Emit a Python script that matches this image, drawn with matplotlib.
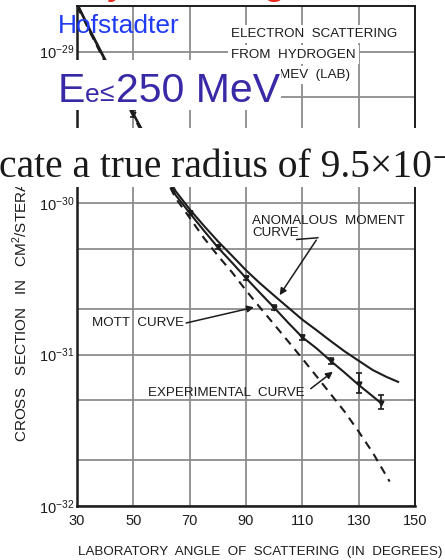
import matplotlib
matplotlib.use('Agg')
import matplotlib.pyplot as plt
from matplotlib.patches import Rectangle

W, H = 445, 560

LETTER = 'Liberation Sans'
plt.rcParams['font.family'] = [LETTER, 'DejaVu Sans']
plt.rcParams['mathtext.fontset'] = 'custom'
plt.rcParams['mathtext.rm'] = LETTER

INK = '#1c1c1c'
GRID = '#8c8c8c'

# anomalous moment curve
ang_anom = [30, 35, 40, 45, 50, 55, 60, 65, 70, 75, 80, 85, 90, 95, 100, 105,
            110, 115, 120, 125, 130, 135, 140, 144]
sig_anom = [2.09e-29, 1.35e-29, 8.9e-30, 5.9e-30, 3.9e-30, 2.63e-30, 1.78e-30,
            1.20e-30, 9.1e-31, 7.1e-31, 5.6e-31, 4.5e-31, 3.6e-31, 2.95e-31,
            2.45e-31, 2.04e-31, 1.70e-31, 1.45e-31, 1.23e-31, 1.05e-31,
            9.1e-32, 7.9e-32, 7.1e-32, 6.6e-32]

# experimental curve
ang_exp = [30, 35, 40, 45, 50, 55, 60, 65, 70, 75, 80, 85, 90, 95, 100, 105,
           110, 115, 120, 125, 130, 135, 137.5]
sig_exp = [2.05e-29, 1.32e-29, 8.7e-30, 5.8e-30, 3.85e-30, 2.58e-30, 1.72e-30,
           1.13e-30, 8.6e-31, 6.6e-31, 5.1e-31, 4.05e-31, 3.2e-31, 2.55e-31,
           2.04e-31, 1.62e-31, 1.30e-31, 1.10e-31, 9.1e-32, 7.6e-32, 6.3e-32,
           5.3e-32, 4.85e-32]

# Mott curve (point charge)
ang_mott = [30, 35, 40, 45, 50, 55, 60, 65, 70, 75, 80, 85, 90, 95, 100, 105,
            110, 115, 120, 125, 130, 135, 141]
sig_mott = [2.0e-29, 1.3e-29, 8.5e-30, 5.65e-30, 3.75e-30, 2.5e-30, 1.65e-30,
            1.08e-30, 8.0e-31, 5.9e-31, 4.5e-31, 3.5e-31, 2.65e-31, 2.04e-31,
            1.58e-31, 1.22e-31, 9.4e-32, 7.2e-32, 5.5e-32, 4.2e-32, 3.1e-32,
            2.25e-32, 1.45e-32]

# measured points
pt_ang = [50, 60, 70, 80, 90, 100, 110, 120, 130, 138]
pt_sig = [3.9e-30, 1.72e-30, 8.6e-31, 5.1e-31, 3.2e-31, 2.04e-31, 1.30e-31,
          9.1e-32, 6.4e-32, 4.8e-32]
pt_lo = [3.7e-30, 1.65e-30, 8.3e-31, 4.95e-31, 3.1e-31, 1.97e-31, 1.25e-31,
         8.7e-32, 5.6e-32, 4.4e-32]
pt_hi = [4.1e-30, 1.80e-30, 8.9e-31, 5.25e-31, 3.3e-31, 2.11e-31, 1.35e-31,
         9.5e-32, 7.6e-32, 5.4e-32]

x_ticks = [30, 50, 70, 90, 110, 130, 150]
y_major = [1e-32, 1e-31, 1e-30, 1e-29]
y_minor = [2e-32, 5e-32, 2e-31, 5e-31, 2e-30, 5e-30]


def fx(px):
    return px / W


def fy(py):
    return 1 - py / H


fig = plt.figure(figsize=(W / 100, H / 100), dpi=100)
ax = fig.add_axes([fx(77), fy(506), 338 / W, 500 / H])

ax.set_yscale('log')
ax.set_xlim(30, 150)
ax.set_ylim(1e-32, 2e-29)
ax.set_xticks(x_ticks)
ax.set_xticklabels([str(t) for t in x_ticks])
ax.set_yticks(y_major)
ax.set_yticklabels([r'$\mathregular{10^{%d}}$' % e for e in (-32, -31, -30, -29)])
ax.set_yticks(y_minor, minor=True)
ax.set_yticklabels([], minor=True)
ax.tick_params(which='both', length=0, labelsize=10.5, colors=INK)
ax.tick_params(axis='x', pad=6)
ax.tick_params(axis='y', pad=2)
ax.grid(True, which='both', color=GRID, lw=1.3)
ax.set_axisbelow(True)
for side, sp in ax.spines.items():
    sp.set_color(INK)
    sp.set_linewidth(1.8 if side in ('left', 'bottom') else 1.4)

ax.plot(ang_anom, sig_anom, color=INK, lw=1.5)
ax.plot(ang_exp, sig_exp, color=INK, lw=1.5)
ax.plot(ang_mott, sig_mott, color=INK, lw=1.5, dashes=(4, 3))

yerr = [[s - l for s, l in zip(pt_sig, pt_lo)], [h - s for s, h in zip(pt_sig, pt_hi)]]
ax.errorbar(pt_ang, pt_sig, yerr=yerr, fmt='v', ms=3.5, color=INK, lw=1.2,
            capsize=2.5, capthick=1.2)

# curve labels
lab = dict(color=INK, fontsize=9.6)
ax.text(92.3, 8.4e-31, 'ANOMALOUS  MOMENT\nCURVE', ha='left', va='top',
        linespacing=1.05, **lab)
ax.plot([108.0, 115.5], [5.75e-31, 5.9e-31], color=INK, lw=1.1)
ax.annotate('', xy=(101.4, 2.38e-31), xytext=(115.5, 5.9e-31),
            arrowprops=dict(arrowstyle='-|>', color=INK, lw=1.1, mutation_scale=10))

ax.text(35.3, 1.62e-31, 'MOTT  CURVE', ha='left', va='center', **lab)
ax.annotate('', xy=(93.8, 2.07e-31), xytext=(67.8, 1.6e-31),
            arrowprops=dict(arrowstyle='-|>', color=INK, lw=1.1, mutation_scale=10))

ax.text(55.2, 5.57e-32, 'EXPERIMENTAL  CURVE', ha='left', va='center', **lab)
ax.annotate('', xy=(121.6, 7.9e-32), xytext=(112.2, 5.8e-32),
            arrowprops=dict(arrowstyle='-|>', color=INK, lw=1.1, mutation_scale=10))

box = dict(facecolor='white', edgecolor='none', pad=2.5)
fig.text(fx(231), fy(37), 'ELECTRON  SCATTERING', ha='left', va='baseline',
         color=INK, fontsize=9.6, bbox=box)
fig.text(fx(231), fy(57.5), 'FROM  HYDROGEN', ha='left', va='baseline',
         color=INK, fontsize=9.6, bbox=box)
fig.text(fx(350), fy(78), '188  MEV  (LAB)', ha='right', va='baseline',
         color=INK, fontsize=9.6, bbox=box)

fig.text(fx(20), fy(442), r'CROSS   SECTION   IN   CM$^2$/STERADIAN',
         rotation=90, ha='center', va='bottom', color=INK, fontsize=11)
fig.text(fx(260), fy(555), 'LABORATORY  ANGLE  OF  SCATTERING  (IN  DEGREES)',
         ha='center', va='baseline', color=INK, fontsize=9.6)

# white strips pasted over the scan
fig.add_artist(Rectangle((fx(56), fy(110)), fx(281) - fx(56), (110 - 60) / H,
                         transform=fig.transFigure, facecolor='white',
                         edgecolor='none', zorder=10))
fig.add_artist(Rectangle((0, fy(187)), 1, (187 - 128) / H,
                         transform=fig.transFigure, facecolor='white',
                         edgecolor='none', zorder=10))

fig.text(fx(-1), fy(177), 'cate a true radius of 9.5×10⁻¹³',
         family=['Liberation Serif', 'DejaVu Serif'], fontsize=28.5,
         color='#1a1a1a', ha='left', va='baseline', zorder=11)

# slide overlays
sans = ['Liberation Sans', 'DejaVu Sans']
fig.text(fx(58), fy(33), 'Hofstadter', family=sans, fontsize=19,
         color='#1f3cf2', ha='left', va='baseline', zorder=12)
indigo = '#3829a6'
fig.text(fx(58), fy(102), 'E', family=sans, fontsize=29.5, color=indigo,
         ha='left', va='baseline', zorder=12)
fig.text(fx(85), fy(102), 'e', family=sans, fontsize=19, color=indigo,
         ha='left', va='baseline', zorder=12)
fig.text(fx(99), fy(101), '≤', family=sans, fontsize=19, color=indigo,
         ha='left', va='baseline', zorder=12)
fig.text(fx(116), fy(102), '250 MeV', family=sans, fontsize=29.5, color=indigo,
         ha='left', va='baseline', zorder=12)
fig.text(fx(107), fy(-7), 'y', family=sans, fontsize=30, color='#e8261c',
         ha='left', va='baseline', zorder=12)
fig.text(fx(262), fy(-7), 'g', family=sans, fontsize=30, color='#e8261c',
         ha='left', va='baseline', zorder=12)

fig.savefig('out.png', dpi=100)
